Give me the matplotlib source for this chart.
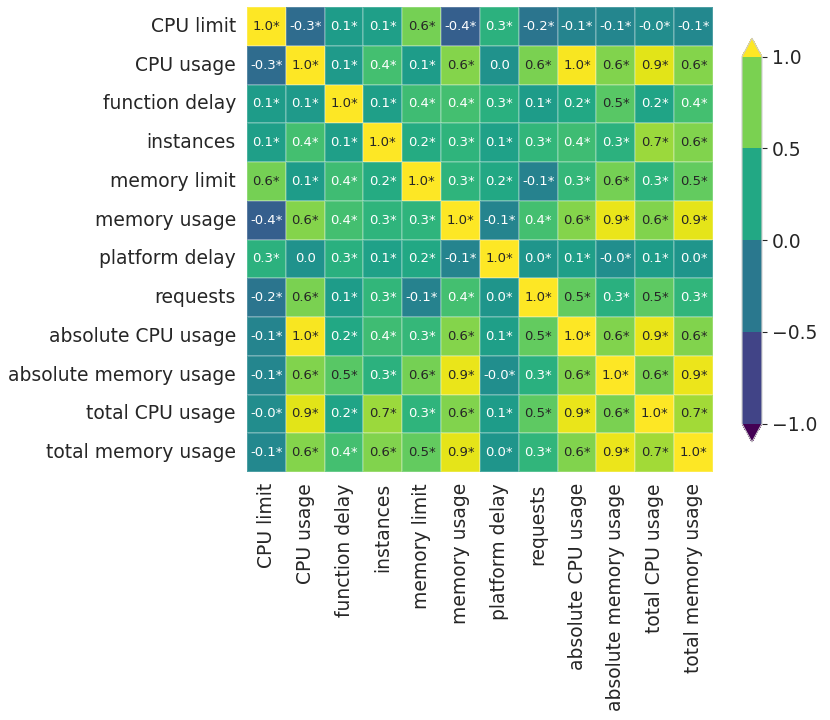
import matplotlib
matplotlib.use("Agg")
import matplotlib.pyplot as plt
import matplotlib.colors as mcolors
import matplotlib.cm as cm
import numpy as np
import pandas as pd
import seaborn as sns

metrics = [
    "CPU limit", "CPU usage", "function delay", "instances", "memory limit",
    "memory usage", "platform delay", "requests", "absolute CPU usage",
    "absolute memory usage", "total CPU usage", "total memory usage",
]

# correlation values (colour used to refine the 2nd decimal)
corr = [
    [1.00, -0.30, 0.10, 0.12, 0.58, -0.40, 0.28, -0.22, -0.10, -0.08, -0.03, -0.07],
    [-0.30, 1.00, 0.08, 0.40, 0.10, 0.63, 0.02, 0.60, 0.98, 0.62, 0.91, 0.63],
    [0.10, 0.08, 1.00, 0.12, 0.38, 0.40, 0.27, 0.10, 0.20, 0.48, 0.17, 0.40],
    [0.12, 0.40, 0.12, 1.00, 0.22, 0.30, 0.14, 0.32, 0.38, 0.28, 0.70, 0.62],
    [0.58, 0.10, 0.38, 0.22, 1.00, 0.30, 0.20, -0.12, 0.33, 0.58, 0.30, 0.52],
    [-0.40, 0.63, 0.40, 0.30, 0.30, 1.00, -0.10, 0.40, 0.63, 0.93, 0.62, 0.92],
    [0.28, 0.02, 0.27, 0.14, 0.20, -0.10, 1.00, 0.04, 0.12, -0.02, 0.10, 0.04],
    [-0.22, 0.60, 0.10, 0.32, -0.12, 0.40, 0.04, 1.00, 0.52, 0.27, 0.50, 0.31],
    [-0.10, 0.98, 0.20, 0.38, 0.33, 0.63, 0.12, 0.52, 1.00, 0.62, 0.93, 0.62],
    [-0.08, 0.62, 0.48, 0.28, 0.58, 0.93, -0.02, 0.27, 0.62, 1.00, 0.60, 0.94],
    [-0.03, 0.91, 0.17, 0.70, 0.30, 0.62, 0.10, 0.50, 0.93, 0.60, 1.00, 0.72],
    [-0.07, 0.63, 0.40, 0.62, 0.52, 0.92, 0.04, 0.31, 0.62, 0.94, 0.72, 1.00],
]

# pairs without a significance star
not_significant = [("CPU usage", "platform delay")]

cbar_bounds = [-1.0, -0.5, 0.0, 0.5, 1.0]

sns.set_style("white")
plt.rcParams["font.family"] = ["DejaVu Sans"]

df = pd.DataFrame(corr, index=metrics, columns=metrics)

labels = df.map(lambda v: f"{v:.1f}*")
for a, b in not_significant:
    labels.loc[a, b] = f"{df.loc[a, b]:.1f}"
    labels.loc[b, a] = f"{df.loc[b, a]:.1f}"

fig = plt.figure(figsize=(8.3, 7.2), dpi=100)
ax = fig.add_axes([0.2976, 0.3444, 0.5614, 0.6458])

sns.heatmap(
    df, ax=ax, cmap="viridis", vmin=-1, vmax=1,
    annot=labels.values, fmt="", cbar=False,
    linewidths=0.15, linecolor=(1, 1, 1, 0.2),
    annot_kws={"size": 9.5},
)
ax.tick_params(axis="both", length=0, pad=8, labelsize=13.5, colors=".15")
ax.set_xticklabels(metrics, rotation=90)
ax.set_yticklabels(metrics, rotation=0)

# discrete colorbar
cax = fig.add_axes([0.894, 0.386, 0.024, 0.561])
norm = mcolors.BoundaryNorm(cbar_bounds, ncolors=256, extend="both")
sm = cm.ScalarMappable(norm=norm, cmap="viridis")
cb = fig.colorbar(sm, cax=cax, ticks=cbar_bounds, extend="both")
cb.outline.set_edgecolor(".8")
cb.ax.tick_params(labelsize=13.5, colors=".15")

fig.savefig("out.png", dpi=100)
